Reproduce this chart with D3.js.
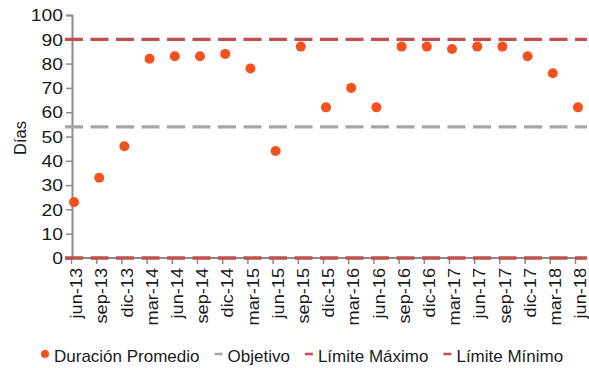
<!DOCTYPE html>
<html>
<head>
<meta charset="utf-8">
<script src="https://cdn.jsdelivr.net/npm/d3@7"></script>
<style>
  body { margin: 0; background: #fff; }
  text { font-family: "Liberation Sans", Arial, sans-serif; fill: #1a1a1a; }
</style>
</head>
<body>
<svg id="chart" width="589" height="368"></svg>
<script>
// quarters, jun-13 .. jun-18
var categories = ["jun-13","sep-13","dic-13","mar-14","jun-14","sep-14","dic-14","mar-15","jun-15","sep-15",
                  "dic-15","mar-16","jun-16","sep-16","dic-16","mar-17","jun-17","sep-17","dic-17","mar-18","jun-18"];
var duracion = [23, 33, 46, 82, 83, 83, 84, 78, 44, 87, 62, 70, 62, 87, 87, 86, 87, 87, 83, 76, 62];
var objetivo = 54;
var limiteMax = 90;
var limiteMin = 0;
var yTicks = [0,10,20,30,40,50,60,70,80,90,100];

var svg = d3.select("#chart");

var x = d3.scalePoint().domain(categories).range([74, 578]);
var y = d3.scaleLinear().domain([0, 100]).range([258, 15]);

var axisColor = "#8c8c8c";

// y axis
var gy = svg.append("g")
    .attr("transform", "translate(72,0)")
    .call(d3.axisLeft(y).tickValues(yTicks).tickSize(6).tickPadding(3));
gy.select(".domain").attr("stroke", axisColor).attr("stroke-width", 2);
gy.selectAll(".tick line").attr("stroke", axisColor).attr("stroke-width", 1.5);
// text in the original is a bit wider than normal, stretch it sideways
gy.selectAll("text")
    .attr("font-size", 16.5)
    .style("fill", "#1a1a1a")
    .attr("x", 0).attr("dy", "0.35em")
    .attr("transform", "translate(-9,0) scale(1.17,1)");

// x axis - ticks sit a little left of the points
var gx = svg.append("g")
    .attr("transform", "translate(-3,258)")
    .call(d3.axisBottom(x).tickSize(6).tickSizeOuter(0));
gx.select(".domain").attr("d", "M75,0H590").attr("stroke", axisColor).attr("stroke-width", 2);
gx.selectAll(".tick line").attr("stroke", axisColor).attr("stroke-width", 1.5);
gx.selectAll("text")
    .attr("font-size", 16.5)
    .style("fill", "#1a1a1a")
    .attr("text-anchor", "end")
    .attr("dominant-baseline", "central")
    .attr("transform", "translate(5,10) rotate(-90) scale(1.1,1)")
    .attr("x", 0).attr("y", 0).attr("dy", null);

// y label
svg.append("text")
    .attr("transform", "translate(20,138) rotate(-90)")
    .attr("text-anchor", "middle")
    .attr("dominant-baseline", "central")
    .attr("font-size", 16.5)
    .text("Días");

// reference lines
var refLines = [
  { v: objetivo, color: "#a6a6a6" },
  { v: limiteMax, color: "#c0504d" },
  { v: limiteMin, color: "#c0504d" }
];
svg.selectAll("line.ref").data(refLines).enter().append("line")
    .attr("class", "ref")
    .attr("x1", 65).attr("x2", 587)
    .attr("y1", d => y(d.v)).attr("y2", d => y(d.v))
    .attr("stroke", d => d.color)
    .attr("stroke-width", 3.3)
    .attr("stroke-dasharray", "18,7.5");

// points
svg.selectAll("circle.pt").data(duracion).enter().append("circle")
    .attr("class", "pt")
    .attr("cx", (d, i) => x(categories[i]))
    .attr("cy", d => y(d))
    .attr("r", 5)
    .attr("fill", "#f4511e");

// legend
var legendItems = [
  { name: "Duración Promedio", type: "dot", color: "#f4511e" },
  { name: "Objetivo", type: "dash", color: "#a6a6a6" },
  { name: "Límite Máximo", type: "dash", color: "#c0504d" },
  { name: "Límite Mínimo", type: "dash", color: "#c0504d" }
];
var lx = 41;
var ly = 355;
legendItems.forEach(function(it) {
  var g = svg.append("g").attr("transform", "translate(" + lx + "," + ly + ")");
  if (it.type === "dot") {
    g.append("circle").attr("cx", 4).attr("cy", -1).attr("r", 4).attr("fill", it.color);
  } else {
    g.append("line").attr("x1", 0).attr("x2", 8).attr("y1", -1).attr("y2", -1)
      .attr("stroke", it.color).attr("stroke-width", 2.5);
  }
  var t = g.append("text").attr("x", 13).attr("y", 7)
    .attr("font-size", 17).text(it.name);
  lx += 13 + t.node().getComputedTextLength() + 15;
});
</script>
</body>
</html>
